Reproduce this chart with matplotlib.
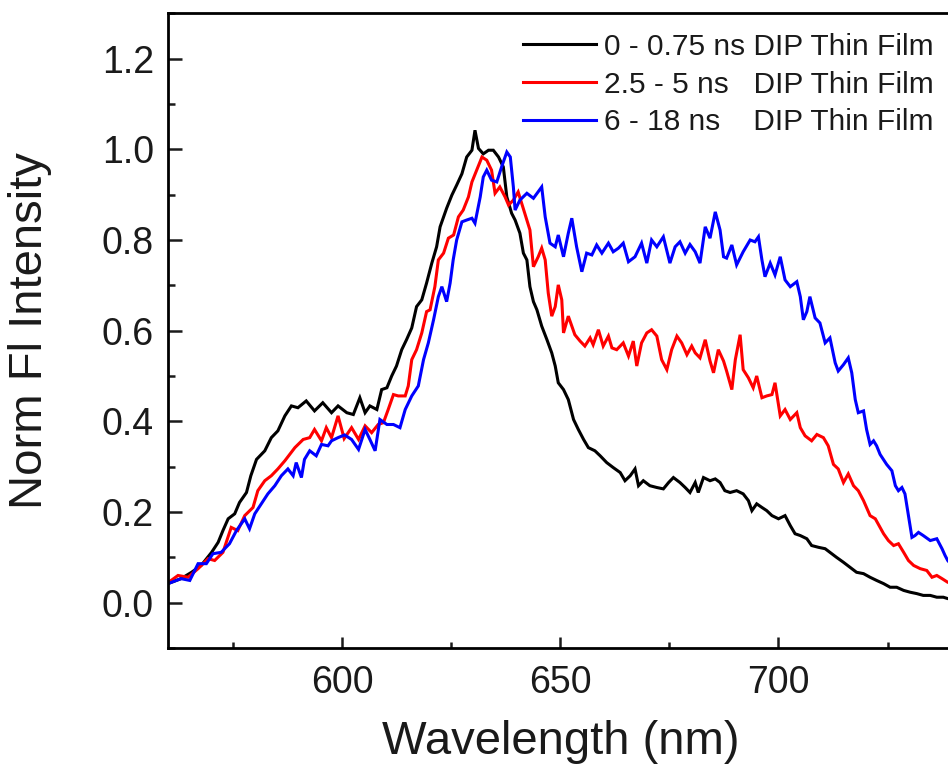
import matplotlib
matplotlib.use("Agg")
import matplotlib.pyplot as plt
from matplotlib.ticker import MultipleLocator

plt.rcParams['font.family'] = ['Liberation Sans', 'DejaVu Sans']

# Time-gated fluorescence spectra of a DIP thin film (wavelength in nm, normalised intensity)
wl_early = [560, 563, 565.4, 567.6, 570, 571.5, 572.6, 573.8, 575.3, 576.4, 578, 579, 580.3, 582.2,
            583.7, 585.2, 586.8, 588.3, 589.8, 591.7, 593.6, 595.5, 597.5, 599, 601, 602.5, 604,
            605.2, 606.3, 607.9, 609, 610.2, 611.3, 612.4, 613.6, 614.7, 615.9, 617, 618.2, 619.3,
            620.5, 621.6, 622.4, 623.9, 625.1, 626.2, 627.4, 628.5, 629.7, 630.4, 631.2, 632.3,
            633.5, 634.6, 635.8, 636.9, 637.7, 638.8, 639.6, 640.7, 641.5, 642.3, 643, 643.8,
            644.6, 645.7, 646.9, 648, 648.8, 649.5, 650.7, 651.8, 653, 654.1, 655.3, 656.4, 657.9,
            659.1, 660.6, 662.1, 663.7, 664.8, 666, 667.1, 667.9, 669, 670.5, 672.1, 673.6, 674.8,
            675.9, 677.4, 678.6, 679.7, 680.9, 681.6, 682.8, 684.3, 685.5, 686.6, 687.7, 688.9,
            690.4, 691.9, 693.1, 693.9, 695, 696.2, 697.3, 698.5, 700, 701.5, 702.7, 703.8, 705,
            706.5, 707.6, 709.2, 710.7, 711.8, 713.3, 714.9, 716.4, 717.9, 719.5, 721, 722.5,
            724.1, 725.6, 727.1, 728.7, 730.2, 731.7, 733.2, 734.8, 736.3, 737.8, 738.8, 740]
int_early = [0.042, 0.053, 0.067, 0.082, 0.111, 0.133, 0.159, 0.185, 0.196, 0.221, 0.243, 0.28,
             0.316, 0.335, 0.364, 0.379, 0.412, 0.434, 0.430, 0.445, 0.423, 0.441, 0.419, 0.434,
             0.419, 0.415, 0.452, 0.419, 0.434, 0.426, 0.47, 0.474, 0.5, 0.522, 0.558, 0.58, 0.606,
             0.653, 0.668, 0.705, 0.749, 0.785, 0.829, 0.87, 0.899, 0.921, 0.946, 0.983, 0.998,
             1.042, 1.002, 0.99, 0.998, 0.998, 0.983, 0.961, 0.895, 0.859, 0.844, 0.815, 0.771,
             0.756, 0.697, 0.664, 0.646, 0.61, 0.58, 0.551, 0.522, 0.485, 0.47, 0.448, 0.404,
             0.382, 0.36, 0.342, 0.335, 0.324, 0.309, 0.298, 0.287, 0.269, 0.28, 0.295, 0.258,
             0.269, 0.258, 0.254, 0.251, 0.265, 0.276, 0.265, 0.254, 0.243, 0.265, 0.243, 0.276,
             0.269, 0.273, 0.265, 0.247, 0.243, 0.247, 0.240, 0.225, 0.203, 0.218, 0.210, 0.203,
             0.192, 0.185, 0.192, 0.170, 0.152, 0.148, 0.141, 0.126, 0.122, 0.119, 0.111, 0.100,
             0.089, 0.078, 0.067, 0.064, 0.056, 0.049, 0.042, 0.034, 0.034, 0.027, 0.023, 0.020,
             0.016, 0.016, 0.012, 0.012, 0.009, 0.008]

wl_mid = [560, 562.3, 564.6, 566.9, 569.2, 570.7, 572.6, 574.5, 576, 577.6, 579.5, 580.6, 582.2,
          583.7, 585.2, 586.8, 587.9, 589.1, 591, 592.5, 593.6, 595.2, 596.3, 597.5, 599, 600.4,
          602.1, 603.7, 605.2, 606.7, 608.2, 609.4, 610.5, 611.7, 612.8, 614.4, 615.1, 615.9,
          617, 618.2, 619.3, 620.1, 621.2, 622, 623.2, 624.3, 625.5, 626.6, 627.7, 628.9, 629.7,
          630.8, 632, 633.1, 634.2, 635, 636.1, 637.3, 638.1, 639.2, 640.3, 641.1, 642.3, 643,
          643.8, 644.9, 645.7, 646.5, 647.2, 648, 648.8, 649.5, 650.3, 650.7, 651.8, 652.6,
          653.3, 654.5, 655.6, 656.8, 657.5, 658.7, 659.8, 661, 661.8, 662.9, 664.4, 665.6,
          666.7, 667.5, 668.6, 669.8, 670.9, 672.1, 673.2, 674.4, 675.5, 676.7, 677.8, 679,
          680.1, 680.9, 682, 683.2, 684.3, 685.1, 686.2, 687.4, 688.1, 689.3, 690.1, 691.2,
          691.9, 693.1, 694.2, 695, 696.2, 697.3, 698.5, 699.2, 700.4, 701.5, 702.7, 704.2, 705,
          706.1, 707.6, 708.8, 710.3, 711.4, 712.6, 713.7, 714.9, 716, 717.2, 718.3, 719.5, 721,
          722.2, 723.3, 724.1, 725.2, 726.4, 727.5, 728.7, 729.8, 731, 732.5, 734, 735.2, 736.3,
          737.5, 738.8, 740]
int_mid = [0.044, 0.06, 0.056, 0.075, 0.097, 0.093, 0.111, 0.166, 0.159, 0.192, 0.21, 0.247, 0.269,
           0.28, 0.295, 0.313, 0.327, 0.342, 0.36, 0.364, 0.382, 0.357, 0.386, 0.364, 0.412, 0.362,
           0.386, 0.36, 0.39, 0.375, 0.393, 0.397, 0.426, 0.459, 0.456, 0.456, 0.478, 0.536,
           0.558, 0.595, 0.642, 0.646, 0.697, 0.756, 0.771, 0.804, 0.811, 0.851, 0.866, 0.895,
           0.928, 0.954, 0.983, 0.976, 0.954, 0.903, 0.917, 0.895, 0.877, 0.888, 0.906, 0.881,
           0.844, 0.822, 0.741, 0.763, 0.782, 0.756, 0.683, 0.632, 0.653, 0.701, 0.668, 0.595,
           0.632, 0.61, 0.591, 0.577, 0.566, 0.584, 0.569, 0.602, 0.566, 0.588, 0.562, 0.558,
           0.573, 0.544, 0.577, 0.522, 0.573, 0.595, 0.602, 0.588, 0.536, 0.514, 0.558, 0.588,
           0.573, 0.547, 0.566, 0.551, 0.540, 0.580, 0.533, 0.507, 0.558, 0.533, 0.511, 0.470,
           0.536, 0.591, 0.514, 0.496, 0.474, 0.5, 0.452, 0.456, 0.459, 0.485, 0.412, 0.426,
           0.404, 0.419, 0.386, 0.368, 0.357, 0.371, 0.364, 0.346, 0.305, 0.295, 0.265, 0.284,
           0.258, 0.247, 0.225, 0.192, 0.185, 0.166, 0.152, 0.137, 0.126, 0.130, 0.111, 0.093,
           0.082, 0.075, 0.071, 0.056, 0.060, 0.053, 0.045, 0.042]

wl_late = [560, 563, 565, 566.9, 568.8, 570.3, 572.2, 574.1, 575.7, 577.6, 578.7, 579.9, 581.4,
           582.9, 584.5, 586, 587.5, 588.7, 589.4, 590.6, 591.3, 592.5, 594, 595.2, 596.7, 597.5,
           599, 600.5, 602.1, 603.7, 605.2, 606.3, 607.5, 608.6, 610.2, 611.7, 613.2, 614.4,
           615.9, 617.4, 618.6, 619.7, 620.9, 622, 622.8, 623.9, 624.7, 625.4, 626.2, 627.4,
           628.5, 629.7, 630.4, 631.6, 632.3, 633.1, 634.2, 635.4, 636.5, 637.7, 638.5, 639.2,
           639.6, 640.7, 642.3, 643.8, 645.7, 646.5, 647.6, 648.8, 649.5, 650.7, 651.8, 652.6,
           653.7, 654.9, 656, 657.2, 658.3, 659.5, 661, 662.1, 663.3, 664.4, 665.6, 667.1, 668.6,
           669.8, 670.9, 672.1, 673.6, 675.1, 676.3, 677.4, 678.6, 679.7, 680.9, 682, 683.2,
           684.3, 685.5, 686.6, 687.4, 688.1, 689.3, 690.4, 691.9, 693.5, 694.6, 695.4, 696.2,
           696.9, 698.1, 699.2, 700.4, 701.5, 702.7, 704.2, 705, 705.7, 706.5, 707.2, 708.4,
           709.5, 710.7, 711.8, 713, 713.7, 714.9, 716, 716.8, 717.6, 718.3, 719.5, 720.2, 721,
           721.8, 722.5, 723.3, 724.8, 726, 726.8, 727.5, 728.3, 729, 729.8, 730.6, 731.3, 732.1,
           733.2, 734.8, 736.3, 737.5, 738.2, 738.8, 740]
int_late = [0.042, 0.053, 0.049, 0.086, 0.086, 0.108, 0.111, 0.130, 0.159, 0.185, 0.163, 0.196,
            0.218, 0.240, 0.258, 0.28, 0.295, 0.28, 0.309, 0.276, 0.316, 0.335, 0.324, 0.349,
            0.346, 0.357, 0.364, 0.37, 0.36, 0.338, 0.382, 0.36, 0.335, 0.404, 0.393, 0.393, 0.386,
            0.426, 0.456, 0.478, 0.536, 0.573, 0.624, 0.675, 0.697, 0.664, 0.705, 0.756, 0.8, 0.84,
            0.844, 0.848, 0.837, 0.895, 0.939, 0.954, 0.932, 0.928, 0.961, 0.994, 0.983, 0.917,
            0.866, 0.888, 0.903, 0.892, 0.917, 0.851, 0.793, 0.785, 0.811, 0.763, 0.815, 0.848,
            0.785, 0.73, 0.771, 0.767, 0.789, 0.771, 0.793, 0.774, 0.782, 0.793, 0.752, 0.763,
            0.793, 0.749, 0.8, 0.785, 0.807, 0.749, 0.785, 0.796, 0.771, 0.790, 0.774, 0.749,
            0.829, 0.804, 0.862, 0.822, 0.763, 0.760, 0.789, 0.745, 0.774, 0.8, 0.796, 0.807,
            0.756, 0.719, 0.749, 0.723, 0.763, 0.712, 0.697, 0.708, 0.675, 0.624, 0.642, 0.675,
            0.628, 0.617, 0.573, 0.584, 0.529, 0.511, 0.525, 0.540, 0.507, 0.448, 0.419, 0.423,
            0.382, 0.349, 0.357, 0.346, 0.327, 0.305, 0.291, 0.258, 0.247, 0.254, 0.240, 0.192,
            0.144, 0.148, 0.155, 0.148, 0.137, 0.141, 0.119, 0.104, 0.093, 0.08]

labels = ["0 - 0.75 ns DIP Thin Film",
          "2.5 - 5 ns   DIP Thin Film",
          "6 - 18 ns    DIP Thin Film"]
colors = ["#000000", "#ff0000", "#0000ff"]

fig = plt.figure(figsize=(9.48, 7.74), dpi=100)
ax = fig.add_axes([0.1772, 0.1628, 0.828, 0.820])

for wl, y, lab, c in zip([wl_early, wl_mid, wl_late], [int_early, int_mid, int_late], labels, colors):
    ax.plot(wl, y, color=c, lw=2.2, label=lab, solid_joinstyle='miter')

ax.set_xlim(560, 740)
ax.set_ylim(-0.1, 1.3)
ax.xaxis.set_minor_locator(MultipleLocator(25))
ax.yaxis.set_minor_locator(MultipleLocator(0.1))
ax.set_xticks([600, 650, 700])
ax.set_yticks([0.0, 0.2, 0.4, 0.6, 0.8, 1.0, 1.2])
ax.set_yticklabels(["0.0", "0.2", "0.4", "0.6", "0.8", "1.0", "1.2"])

for s in ax.spines.values():
    s.set_linewidth(2.0)
ax.spines['right'].set_visible(False)

ax.tick_params(axis='both', which='both', direction='in', width=1.8, labelsize=27, colors='#1a1a1a')
ax.tick_params(axis='y', which='major', length=10, pad=10)
ax.tick_params(axis='y', which='minor', length=5)
ax.tick_params(axis='x', which='major', length=8, pad=12)
ax.tick_params(axis='x', which='minor', length=4)

ax.set_xlabel("Wavelength (nm)", fontsize=34, labelpad=14, color='#1a1a1a')
ax.set_ylabel("Norm Fl Intensity", fontsize=34, labelpad=36, color='#1a1a1a')

leg = ax.legend(loc='upper right', bbox_to_anchor=(1.0, 1.0), frameon=False, fontsize=21.5,
                handlelength=2.45, handletextpad=0.25, labelspacing=0.33, borderaxespad=0.25)
for t in leg.get_texts():
    t.set_color('#1a1a1a')

fig.savefig("out.png", dpi=100)
